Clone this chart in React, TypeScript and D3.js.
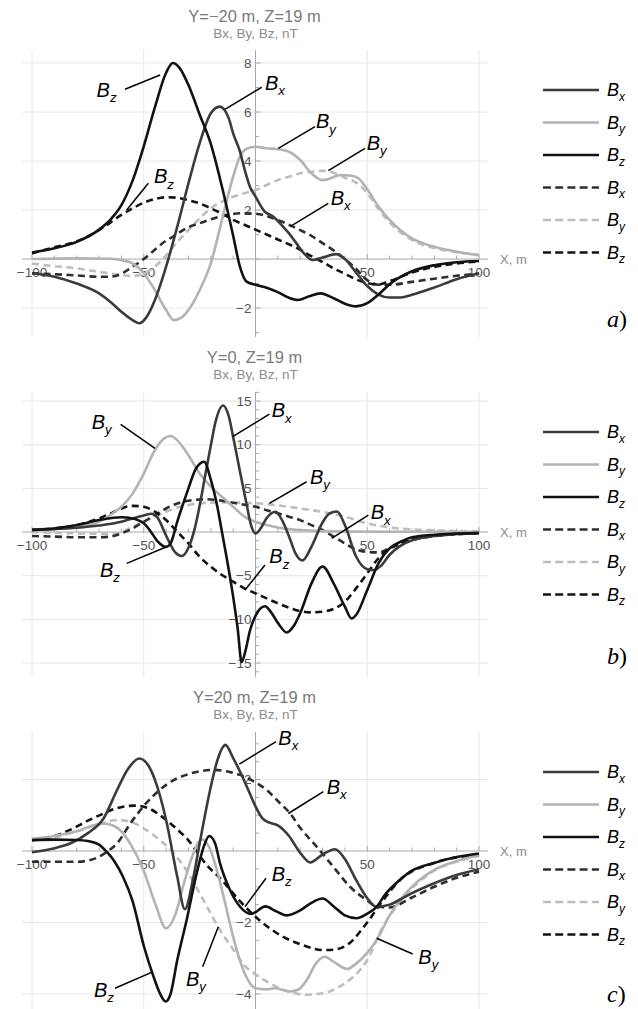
import * as d3 from "d3";
import { useEffect } from "react";

type Pt = [number, number];

// x axis (distance along profile, m)
const xTicks = [-100, -50, 50, 100];

// ---- a) Y=-20 m, Z=19 m ----
const aYTicks = [-2, 2, 4, 6, 8];
const aBx: Pt[] = [[-100,-0.58],[-90,-0.72],[-80,-1.0],[-70,-1.4],[-65,-1.74],[-60,-2.15],[-55,-2.49],[-52,-2.62],[-49,-2.4],[-45,-1.67],[-40,-0.31],[-35,1.32],[-30,3.09],[-25,4.72],[-20,5.95],[-16,6.22],[-12,5.75],[-10,5.13],[-7,4.4],[-5,3.7],[-2.5,2.95],[0,2.55],[4,1.95],[8,1.73],[12,1.35],[15,1.05],[18,0.68],[22,0.2],[25.5,-0.04],[30,0.06],[36,0.2],[40,0.0],[45,-0.55],[50,-1.1],[55,-1.45],[60,-1.57],[65,-1.57],[70,-1.46],[80,-1.16],[90,-0.82],[100,-0.58]];
const aBy: Pt[] = [[-100,0.0],[-80,0.03],[-65,0.01],[-60,-0.04],[-55,-0.18],[-50,-0.58],[-45,-1.27],[-40,-2.08],[-36.5,-2.49],[-33,-2.38],[-30,-2.08],[-25,-1.27],[-20,-0.18],[-15,1.6],[-10,3.36],[-7,4.18],[-4,4.5],[0,4.58],[5,4.52],[10,4.48],[15,4.38],[20,4.04],[25,3.5],[30,3.22],[33,3.28],[38,3.43],[43,3.4],[46,3.3],[50,2.85],[55,2.14],[60,1.6],[70,0.84],[80,0.5],[90,0.3],[100,0.16]];
const aBz: Pt[] = [[-100,0.27],[-90,0.44],[-80,0.7],[-70,1.2],[-65,1.6],[-60,2.2],[-55,3.2],[-50,4.6],[-45,6.2],[-40,7.6],[-37,8.0],[-34,7.8],[-30,7.1],[-25,5.9],[-20,4.7],[-15,2.95],[-10,0.95],[-7,-0.3],[-4,-0.92],[0,-1.05],[5,-1.17],[10,-1.35],[15,-1.58],[19,-1.67],[24,-1.52],[29,-1.4],[35,-1.6],[40,-1.82],[45,-1.93],[50,-1.8],[55,-1.45],[60,-1.03],[70,-0.5],[80,-0.25],[90,-0.13],[100,-0.08]];
const aBxD: Pt[] = [[-100,-0.58],[-90,-0.62],[-80,-0.67],[-70,-0.72],[-65,-0.72],[-60,-0.6],[-55,-0.31],[-50,0.0],[-47,0.23],[-40,0.75],[-37,0.91],[-30,1.3],[-25,1.46],[-20,1.62],[-13,1.8],[-5,1.87],[0,1.85],[8,1.66],[12,1.52],[20,1.18],[25,0.95],[30,0.65],[35,0.35],[40,0.0],[44,-0.31],[50,-0.86],[55,-1.05],[60,-1.05],[70,-0.93],[80,-0.8],[90,-0.68],[100,-0.6]];
const aByD: Pt[] = [[-100,-0.18],[-90,-0.29],[-80,-0.38],[-70,-0.52],[-60,-0.65],[-55,-0.69],[-50,-0.58],[-45,-0.31],[-40,0.15],[-35,0.7],[-30,1.18],[-25,1.66],[-20,2.07],[-15,2.34],[-10,2.54],[-5,2.68],[0,2.82],[5,3.02],[10,3.22],[15,3.36],[20,3.5],[25,3.56],[30,3.6],[35,3.52],[40,3.32],[45,3.12],[50,2.7],[55,2.05],[60,1.5],[70,0.78],[80,0.45],[90,0.28],[100,0.16]];
const aBzD: Pt[] = [[-100,0.23],[-90,0.48],[-80,0.72],[-70,1.18],[-60,1.8],[-55,2.07],[-50,2.3],[-45,2.45],[-40,2.52],[-35,2.5],[-30,2.4],[-25,2.27],[-20,2.07],[-15,1.86],[-10,1.6],[-5,1.4],[0,1.2],[5,1.0],[10,0.8],[15,0.6],[20,0.38],[25,0.12],[30,-0.12],[35,-0.38],[40,-0.6],[45,-0.83],[50,-0.98],[55,-1.04],[60,-0.9],[70,-0.55],[80,-0.32],[90,-0.18],[100,-0.1]];

// ---- b) Y=0, Z=19 m ----
const bYTicks = [-15, -10, -5, 5, 10, 15];
const bBx: Pt[] = [[-100,0.3],[-90,0.36],[-80,0.5],[-70,0.75],[-60,1.18],[-55,1.56],[-50,1.9],[-46.5,2.1],[-44,1.7],[-40,-0.4],[-36,-2.3],[-33,-2.75],[-30,-1.8],[-27,0.6],[-25,3.0],[-22.5,6.5],[-20,9.9],[-18,12.5],[-14.5,14.5],[-12,13.3],[-10,10.9],[-7,7.0],[-4,3.2],[-2,0.8],[0,-0.15],[2.5,0.5],[5,1.6],[9,2.33],[12,1.3],[15,-0.5],[18,-2.5],[21,-3.25],[25,-1.7],[30,1.1],[33,2.1],[36.5,2.35],[40,0.8],[45,-2.8],[50,-4.25],[53,-4.35],[56,-3.9],[60,-2.6],[65,-1.55],[70,-0.95],[80,-0.46],[90,-0.23],[100,-0.12]];
const bBy: Pt[] = [[-100,0.23],[-90,0.34],[-80,0.6],[-70,1.18],[-65,1.95],[-60,2.9],[-55,4.4],[-50,6.7],[-45,9.4],[-41,10.7],[-38,11.0],[-35,10.5],[-30,8.8],[-25,6.7],[-20,5.2],[-15,4.05],[-10,2.9],[-5,1.76],[0,1.18],[5,0.8],[10,0.53],[15,0.34],[20,0.23],[30,0.11],[40,0.06],[60,0.04],[100,0.03]];
const bBz: Pt[] = [[-100,0.23],[-90,0.4],[-80,0.8],[-70,1.37],[-60,1.7],[-55,1.56],[-50,1.0],[-47,0.1],[-44,-1.0],[-40,-1.7],[-38,-1.3],[-35,1.2],[-30,5.0],[-27,7.1],[-23,8.05],[-20,6.0],[-17,2.8],[-15,0.0],[-13,-2.8],[-10,-7.4],[-8,-11.0],[-6.2,-14.9],[-4.5,-13.6],[-2.5,-11.3],[0,-9.6],[2,-8.8],[4.3,-8.5],[7,-9.2],[10,-10.4],[14,-11.5],[17,-10.8],[20,-9.3],[25,-5.9],[30,-3.95],[35,-5.9],[40,-8.55],[43,-9.9],[45,-9.5],[50,-6.64],[55,-3.59],[60,-1.87],[65,-1.1],[70,-0.6],[80,-0.3],[90,-0.18],[100,-0.1]];
const bBxD: Pt[] = [[-100,-0.46],[-90,-0.52],[-80,-0.6],[-70,-0.6],[-65,-0.52],[-60,-0.15],[-55,0.42],[-50,1.18],[-45,1.95],[-40,2.7],[-35,3.28],[-30,3.59],[-22,3.75],[-15,3.59],[-10,3.36],[-5,3.12],[0,2.9],[5,2.5],[10,2.14],[15,1.76],[20,1.37],[25,0.8],[30,0.23],[35,-0.53],[40,-1.3],[45,-2.0],[50,-2.28],[55,-2.33],[60,-1.87],[70,-0.92],[80,-0.46],[90,-0.23],[100,-0.11]];
const bByD: Pt[] = [[-100,0.0],[-90,-0.08],[-80,-0.15],[-70,-0.2],[-62,-0.12],[-55,0.6],[-50,1.18],[-45,1.76],[-40,2.33],[-35,2.8],[-30,3.1],[-25,3.3],[-15,3.4],[-5,3.36],[0,3.3],[5,3.2],[10,3.05],[20,2.7],[30,2.3],[40,1.76],[50,1.0],[60,0.53],[70,0.3],[80,0.2],[90,0.12],[100,0.08]];
const bBzD: Pt[] = [[-100,0.23],[-90,0.42],[-80,0.8],[-70,1.56],[-65,2.1],[-60,2.7],[-55,3.0],[-50,2.9],[-45,2.33],[-40,1.37],[-35,0.04],[-30,-1.3],[-25,-2.82],[-20,-3.97],[-15,-4.92],[-10,-5.69],[-5,-6.45],[0,-7.02],[5,-7.6],[10,-8.17],[15,-8.66],[20,-9.05],[25,-9.2],[30,-9.12],[35,-8.8],[40,-7.98],[45,-6.45],[50,-4.73],[55,-3.0],[60,-1.87],[70,-0.84],[80,-0.42],[90,-0.23],[100,-0.11]];

// ---- c) Y=20 m, Z=19 m ----
const cYTicks = [-4, -2, 2];
const cBx: Pt[] = [[-100,-0.03],[-90,0.08],[-83,0.21],[-75,0.5],[-68,0.91],[-62,1.7],[-57,2.3],[-52,2.59],[-48,2.4],[-45,1.99],[-40,0.87],[-35,-0.72],[-31.6,-1.63],[-28,-0.8],[-25,0.21],[-20,1.8],[-17,2.55],[-13.5,2.97],[-10,2.6],[-6,2.1],[-2.5,1.6],[0,1.25],[3,0.92],[6,0.8],[10,0.72],[15,0.42],[20,-0.05],[24.5,-0.32],[30,-0.1],[35.5,0.05],[40,-0.22],[45,-0.81],[50,-1.32],[54,-1.56],[60,-1.5],[65,-1.35],[70,-1.18],[80,-0.9],[90,-0.67],[100,-0.51]];
const cBy: Pt[] = [[-100,0.34],[-90,0.42],[-80,0.55],[-72,0.73],[-68,0.77],[-64,0.72],[-60,0.55],[-56,0.2],[-50,-0.55],[-45,-1.45],[-40,-2.16],[-36,-1.8],[-32,-0.9],[-28,-0.1],[-24,0.33],[-20,0.0],[-17,-0.6],[-14,-1.35],[-10,-2.4],[-5,-3.4],[0,-3.84],[5,-3.87],[9,-3.84],[15,-3.93],[19,-3.88],[23,-3.6],[27,-3.15],[31,-2.96],[35,-3.1],[41,-3.3],[45,-3.15],[50,-2.85],[55,-2.4],[60,-1.8],[65,-1.35],[70,-1.0],[80,-0.53],[90,-0.28],[100,-0.11]];
const cBz: Pt[] = [[-100,0.31],[-90,0.32],[-80,0.31],[-75,0.28],[-70,0.18],[-66.6,-0.02],[-63,-0.3],[-59.3,-0.72],[-55,-1.4],[-50,-2.65],[-45.7,-3.5],[-43,-3.95],[-40.2,-4.21],[-38,-4.0],[-35,-3.05],[-30.8,-1.93],[-26.3,-0.62],[-23,0.15],[-20.7,0.42],[-18,0.2],[-15.9,-0.34],[-11.4,-1.09],[-6.9,-1.56],[-2,-1.76],[4.5,-1.55],[9,-1.68],[14,-1.8],[20,-1.66],[25,-1.45],[30,-1.33],[35,-1.55],[40,-1.8],[45.3,-1.88],[50,-1.75],[54.2,-1.56],[58,-1.22],[64.6,-0.81],[70,-0.55],[79.5,-0.34],[90,-0.17],[100,-0.07]];
const cBxD: Pt[] = [[-100,-0.3],[-90,-0.3],[-80,-0.3],[-75,-0.27],[-70,-0.16],[-66,0.0],[-62,0.21],[-56,0.77],[-49,1.33],[-43,1.7],[-37,1.97],[-31,2.13],[-25,2.23],[-19,2.27],[-13,2.23],[-7,2.13],[0,1.92],[5,1.71],[10,1.4],[15.5,1.05],[20,0.65],[27.4,0.12],[34.8,-0.44],[42.3,-1.0],[49.7,-1.37],[54.2,-1.55],[60,-1.58],[70,-1.3],[80,-1.0],[90,-0.75],[100,-0.58]];
const cByD: Pt[] = [[-100,0.28],[-90,0.38],[-80,0.55],[-70,0.75],[-62,0.87],[-55,0.8],[-50,0.63],[-45.7,0.45],[-38,0.03],[-31,-0.53],[-25,-1.18],[-20,-1.75],[-16,-2.2],[-10,-2.75],[-5,-3.2],[0,-3.45],[5,-3.65],[10,-3.82],[15,-3.93],[22,-4.02],[30,-3.98],[36,-3.85],[42,-3.61],[50,-3.05],[57,-2.12],[65,-1.4],[80,-0.55],[90,-0.3],[100,-0.13]];
const cBzD: Pt[] = [[-100,0.3],[-90,0.42],[-83,0.59],[-75,0.85],[-68,1.05],[-62,1.2],[-54,1.27],[-48,1.2],[-42.7,1.0],[-35.3,0.62],[-30,0.3],[-27,0.05],[-22,-0.38],[-16,-0.75],[-7,-1.4],[2,-1.95],[11,-2.35],[22,-2.65],[30,-2.77],[35,-2.76],[42,-2.58],[49.7,-2.02],[57.2,-1.37],[64.6,-0.81],[79.5,-0.34],[100,-0.11]];

// callouts: component, label position, leader start, leader end (data units)
type Note = { c: string; at: Pt; from: Pt; to: Pt };
const aNotes: Note[] = [
  { c: "z", at: [-71.1, 6.63], from: [-58.4, 6.93], to: [-42.7, 7.51] },
  { c: "x", at: [4.25, 6.9], from: [2.76, 7.01], to: [-13.65, 6.11] },
  { c: "y", at: [27.07, 5.33], from: [26.62, 5.4], to: [10.22, 4.52] },
  { c: "y", at: [49.74, 4.45], from: [49.0, 4.52], to: [32.58, 3.61] },
  { c: "z", at: [-45.41, 3.09], from: [-47.95, 3.09], to: [-57.64, 2.0] },
  { c: "x", at: [33.63, 2.2], from: [32.58, 2.27], to: [15.44, 1.32] },
];
const bNotes: Note[] = [
  { c: "y", at: [-73.3, 11.79], from: [-60.33, 12.33], to: [-44.97, 9.58] },
  { c: "x", at: [7.23, 13.13], from: [6.19, 13.51], to: [-10.22, 10.92] },
  { c: "y", at: [24.38, 5.5], from: [22.89, 5.76], to: [6.19, 3.28] },
  { c: "x", at: [51.53, 1.45], from: [50.49, 1.95], to: [34.08, -0.73] },
  { c: "z", at: [-69.58, -5.11], from: [-57.64, -3.59], to: [-39.75, -1.68] },
  { c: "z", at: [6.19, -3.59], from: [4.25, -3.78], to: [-4.7, -6.64] },
];
const cNotes: Note[] = [
  { c: "x", at: [10.22, 2.97], from: [9.17, 3.06], to: [-7.23, 2.43] },
  { c: "x", at: [31.84, 1.59], from: [30.35, 1.66], to: [14.69, 1.05] },
  { c: "z", at: [7.23, -0.83], from: [4.7, -0.76], to: [-4.7, -1.56] },
  { c: "y", at: [72.85, -3.16], from: [70.32, -2.88], to: [54.21, -2.44] },
  { c: "z", at: [-72.25, -4.09], from: [-62.86, -3.84], to: [-46.01, -3.38] },
  { c: "y", at: [-31.1, -3.78], from: [-23.64, -3.24], to: [-16.63, -2.12] },
];

const styles = [
  { comp: "x", color: "#3b3b3b", dash: "" },
  { comp: "y", color: "#b3b3b3", dash: "" },
  { comp: "z", color: "#121212", dash: "" },
  { comp: "x", color: "#2e2e2e", dash: "7 4.5" },
  { comp: "y", color: "#bdbdbd", dash: "7 4.5" },
  { comp: "z", color: "#121212", dash: "7 4.5" },
];
// dashed first, then light, mid and black solid lines on top
const drawOrder = [4, 3, 5, 1, 0, 2];

const panels = [
  { letter: "a", title: "Y=\u221220 m, Z=19 m", yDomain: [-3.18, 8.53], yRange: [337, 50], yTicks: aYTicks, minor: 1, titleY: 22, legendTop: 90, letterY: 327, series: [aBx, aBy, aBz, aBxD, aByD, aBzD], notes: aNotes },
  { letter: "b", title: "Y=0, Z=19 m", yDomain: [-16.6, 16.04], yRange: [677, 392], yTicks: bYTicks, minor: 1, titleY: 363, legendTop: 432, letterY: 664, series: [bBx, bBy, bBz, bBxD, bByD, bBzD], notes: bNotes },
  { letter: "c", title: "Y=20 m, Z=19 m", yDomain: [-4.42, 3.33], yRange: [1009, 732], yTicks: cYTicks, minor: 0.5, titleY: 703, legendTop: 772, letterY: 1002, series: [cBx, cBy, cBz, cBxD, cByD, cBzD], notes: cNotes },
];

const sans = "'Liberation Sans', Arial, sans-serif";
const fmt = (v: number) => (v < 0 ? "\u2212" + Math.abs(v) : String(v));

const x = d3.scaleLinear().domain([-100, 100]).range([32, 479]);
const plotLeft = 22;
const plotRight = 488;

function B({ comp, size, px, py }: { comp: string; size: number; px: number; py: number }) {
  return (
    <text x={px} y={py} fontFamily={sans} fontStyle="italic" fontSize={size} fill="#000">
      B
      <tspan fontSize={size * 0.66} dy={size * 0.26}>{comp}</tspan>
    </text>
  );
}

function Panel({ p }: { p: (typeof panels)[number] }) {
  const y = d3.scaleLinear().domain(p.yDomain).range(p.yRange);
  const y0 = y(0);
  const top = p.yRange[1];
  const bottom = p.yRange[0];
  const line = d3
    .line<Pt>()
    .x((d) => x(d[0]))
    .y((d) => y(d[1]))
    .curve(d3.curveMonotoneX);
  const xMinor = d3.range(-100, 101, 10);
  const yMinor = d3.range(Math.ceil(p.yDomain[0] / p.minor) * p.minor, p.yDomain[1], p.minor);
  const cx = x(0);

  return (
    <g>
      <text x={cx - 1} y={p.titleY} textAnchor="middle" fontFamily={sans} fontSize={16.5} fill="#7a7a7a">
        {p.title}
      </text>
      <text x={cx} y={p.titleY + 16} textAnchor="middle" fontFamily={sans} fontSize={13.5} fill="#8c8c8c">
        Bx, By, Bz, nT
      </text>

      {/* grid */}
      {xTicks.map((t) => (
        <line key={"gx" + t} x1={x(t)} x2={x(t)} y1={top} y2={bottom} stroke="#e6e6e6" strokeWidth={1} />
      ))}
      {p.yTicks.map((t) => (
        <line key={"gy" + t} x1={plotLeft} x2={plotRight} y1={y(t)} y2={y(t)} stroke="#e6e6e6" strokeWidth={1} />
      ))}

      {/* axes */}
      <line x1={plotLeft} x2={plotRight} y1={y0} y2={y0} stroke="#a8a8a8" strokeWidth={1} />
      <line x1={cx} x2={cx} y1={top} y2={bottom} stroke="#a8a8a8" strokeWidth={1} />
      {xMinor.map((t) => (
        <line key={"tx" + t} x1={x(t)} x2={x(t)} y1={y0} y2={y0 - (t % 50 === 0 ? 5 : 3.5)} stroke="#a8a8a8" />
      ))}
      {yMinor.map((t) => (
        <line key={"ty" + t} x1={cx} x2={cx + (p.yTicks.includes(t) ? 5 : 3.5)} y1={y(t)} y2={y(t)} stroke="#a8a8a8" />
      ))}

      {/* tick labels */}
      {xTicks.map((t) => (
        <text key={"lx" + t} x={x(t)} y={y0 + 18} textAnchor="middle" fontFamily={sans} fontSize={13.5} fill="#555">
          {fmt(t)}
        </text>
      ))}
      {p.yTicks.map((t) => (
        <text key={"ly" + t} x={cx - 4} y={y(t)} dy="0.35em" textAnchor="end" fontFamily={sans} fontSize={13.5} fill="#555">
          {fmt(t)}
        </text>
      ))}
      <text x={500} y={y0 + 5} fontFamily={sans} fontSize={13} fill="#8c8c8c">
        X, m
      </text>

      {/* curves */}
      {drawOrder.map((i) => (
        <path
          key={"s" + i}
          d={line(p.series[i]) ?? ""}
          fill="none"
          stroke={styles[i].color}
          strokeWidth={2.6}
          strokeDasharray={styles[i].dash || undefined}
          strokeLinecap="butt"
        />
      ))}

      {/* callouts */}
      {p.notes.map((n, i) => (
        <g key={"n" + i}>
          <line x1={x(n.from[0])} y1={y(n.from[1])} x2={x(n.to[0])} y2={y(n.to[1])} stroke="#000" strokeWidth={1.5} />
          <B comp={n.c} size={20} px={x(n.at[0])} py={y(n.at[1])} />
        </g>
      ))}

      {/* legend */}
      {styles.map((s, i) => {
        const ly = p.legendTop + i * 32.5;
        return (
          <g key={"lg" + i}>
            <line x1={543} x2={599} y1={ly} y2={ly} stroke={s.color} strokeWidth={2.6} strokeDasharray={s.dash ? "8 4.2" : undefined} />
            <B comp={s.comp} size={18} px={607} py={ly + 6} />
          </g>
        );
      })}

      <text x={607} y={p.letterY} fontFamily="'Liberation Serif', 'Times New Roman', serif" fontSize={24} fill="#000">
        <tspan fontStyle="italic">{p.letter}</tspan>)
      </text>
    </g>
  );
}

export default function App() {
  useEffect(() => {
    document.body.style.margin = "0";
  }, []);
  return (
    <svg width={638} height={1009} style={{ display: "block", background: "#fff" }}>
      {panels.map((p) => (
        <Panel key={p.letter} p={p} />
      ))}
    </svg>
  );
}
